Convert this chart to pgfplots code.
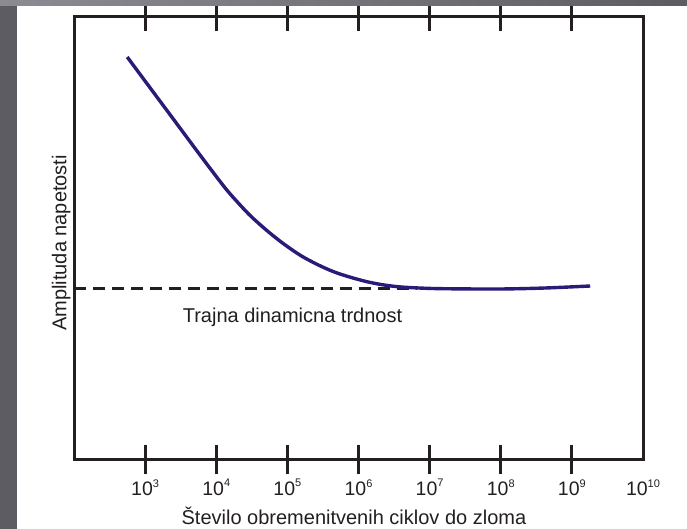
\documentclass[border=0pt]{standalone}
\usepackage{fontspec}
\setmainfont{Liberation Sans}
\usepackage{pgfplots}
\pgfplotsset{compat=1.18}
\definecolor{curve}{RGB}{43,26,120}
\definecolor{axisblk}{RGB}{35,31,32}
\definecolor{frame}{RGB}{94,92,99}
\definecolor{framelt}{RGB}{140,138,146}
\newcommand\ex[1]{10\raisebox{0.45em}{\fontsize{11}{11}\selectfont #1}}

% S-N curve (x = cycles, y = amplitude in px units)
\pgfplotstableread{
N          amp
560        403
1253       369.5
2805       336
6281       302.5
13183      272.5
20701      256.5
31477      243
54450      228
91201      215.5
157760     204
272900     195
457100     188
790700     182.5
1368000    178
2291000    175
3963000    173
8872000    171.7
19860000   171.2
99500000   171
424600000  172
1811000000 174
}\sncurve

\begin{document}
\begin{tikzpicture}
\useasboundingbox (0,0) rectangle (687pt,529pt);
\begin{axis}[
  at={(74pt,69pt)}, anchor=south west,
  scale only axis, width=569pt, height=443pt,
  xmode=log, xmin=1e2, xmax=1e10,
  ymin=0, ymax=443,
  line width=3pt,
  axis line style={axisblk, line width=3pt},
  ytick=\empty,
  xtick={1e3,1e4,1e5,1e6,1e7,1e8,1e9},
  xticklabels={\ex{3},\ex{4},\ex{5},\ex{6},\ex{7},\ex{8},\ex{9}},
  extra x ticks={1e10},
  extra x tick labels={\ex{10}},
  extra x tick style={major tick style={draw=none}},
  minor x tick style={draw=none},
  tick align=center,
  major tick length=29pt,
  every tick/.append style={axisblk, line width=3.2pt},
  xticklabel style={font=\fontsize{19.5}{22}\selectfont, text=axisblk},
  xlabel={Število obremenitvenih ciklov do zloma},
  ylabel={Amplituda napetosti},
  label style={font=\fontsize{20}{24}\selectfont, text=axisblk},
  xlabel style={at={(axis description cs:0.492,-0.1445)}, anchor=base, inner sep=0pt},
  ylabel style={at={(axis description cs:-0.0035,0.49)}, anchor=south, inner sep=0pt},
]
% endurance limit
\addplot[axisblk, line width=3.4pt, dash pattern=on 12pt off 7pt]
  coordinates {(100,171.5) (6.5e6,171.5)};
% S-N curve
\addplot[curve, line width=3.4pt, smooth, no markers] table[x=N, y=amp] {\sncurve};
\node[font=\fontsize{20}{24}\selectfont, text=axisblk, anchor=base]
  at (axis cs:1.18e5,137) {Trajna dinamicna trdnost};
\end{axis}
% grey slide frame
\fill[frame] (0,0) rectangle (17pt,529pt);
\shade[left color=framelt, right color=frame] (0,523pt) rectangle (687pt,529pt);
\end{tikzpicture}
\end{document}
